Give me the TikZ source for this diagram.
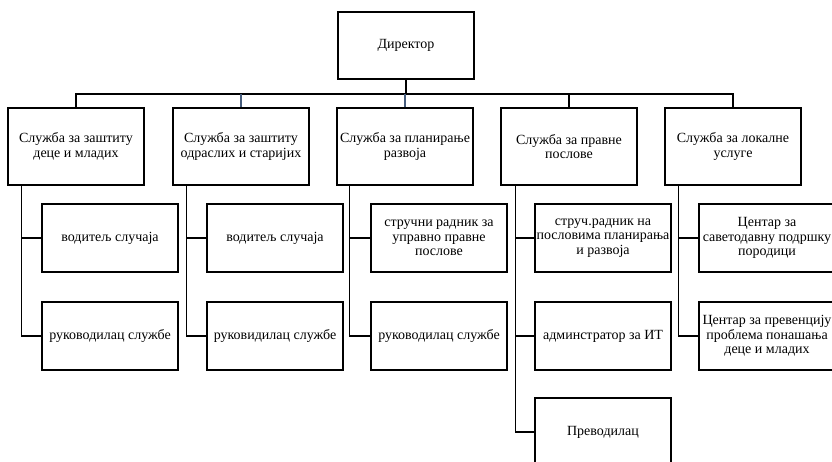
\documentclass[tikz,border=0pt]{standalone}
\usepackage{fontspec}
\setmainfont{Liberation Serif}
\definecolor{slate}{RGB}{70,92,124}
\begin{document}
\begin{tikzpicture}[x=1pt,y=-1pt,
  unit/.style={draw, line width=1.3pt, minimum width=136pt, align=center, inner sep=1pt, font=\fontsize{14}{14.5}\selectfont},
  dept/.style={unit, minimum height=77pt},
  post/.style={unit, minimum height=68pt},
  link/.style={line width=1.1pt},
  bluelink/.style={link, draw=slate}]
\useasboundingbox[fill=white] (0,0) rectangle (832,462);
% director and departments
\node[unit, minimum height=67pt] (dir) at (406,45.5){Директор};
\node[dept] (s1) at (76,146.5){Служба за заштиту\\деце и младих};
\node[dept] (s2) at (241,146.5){Служба за заштиту\\одраслих и старијих};
\node[dept] (s3) at (405,146.5){Служба за планирање\\развоја};
\node[dept] (s4) at (569,146.5){Служба за правне\\послове};
\node[dept] (s5) at (733,146.5){Служба за локалне\\услуге};
\coordinate (bus) at (406,94);
\draw[link](dir) -- (bus);
\draw[link](bus) -| (s1);
\draw[link](bus) -| (s5);
\draw[link](s4 |- bus) -- (s4);
\draw[bluelink](s2 |- bus) -- (s2);
\draw[bluelink](s3 |- bus) -- (s3);
% posts
\node[post] (s1a) at (110,238){водитељ случаја};
\node[post] (s1b) at (110,336){руководилац службе};
\draw[link]([xshift=14pt]s1.south west) |- (s1a);
\draw[link]([xshift=14pt]s1.south west) |- (s1b);
\node[post] (s2a) at (275,238){водитељ случаја};
\node[post] (s2b) at (275,336){руковидилац службе};
\draw[link]([xshift=14pt]s2.south west) |- (s2a);
\draw[link]([xshift=14pt]s2.south west) |- (s2b);
\node[post] (s3a) at (439,238){стручни радник за\\управно правне\\послове};
\node[post] (s3b) at (439,336){руководилац службе};
\draw[link]([xshift=13pt]s3.south west) |- (s3a);
\draw[link]([xshift=13pt]s3.south west) |- (s3b);
\node[post] (s4a) at (603,238){струч.радник на\\пословима планирања\\и развоја};
\node[post] (s4b) at (603,336){админстратор за ИТ};
\node[post] (s4c) at (603,432){Преводилац};
\draw[link]([xshift=15pt]s4.south west) |- (s4a);
\draw[link]([xshift=15pt]s4.south west) |- (s4b);
\draw[link]([xshift=15pt]s4.south west) |- (s4c);
\node[post] (s5a) at (767,238){Центар за\\саветодавну подршку\\породици};
\node[post] (s5b) at (767,336){Центар за превенцију\\проблема понашања\\деце и младих};
\draw[link]([xshift=14pt]s5.south west) |- (s5a);
\draw[link]([xshift=14pt]s5.south west) |- (s5b);
\end{tikzpicture}
\end{document}
